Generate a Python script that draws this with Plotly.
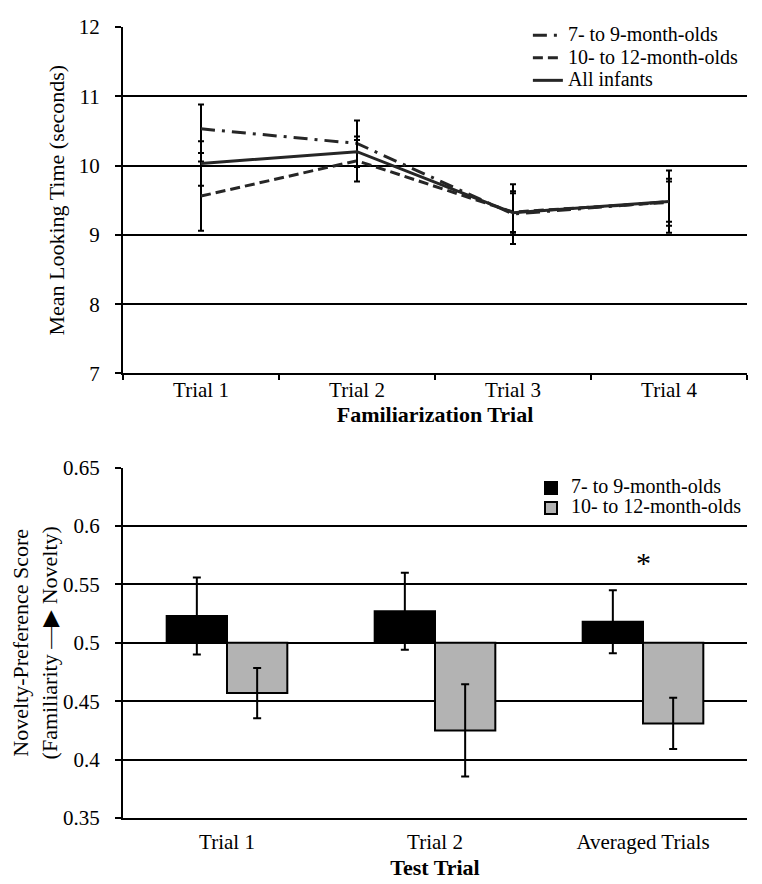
import plotly.graph_objects as go

# ---------------- data ----------------
fam_trials = ["Trial 1", "Trial 2", "Trial 3", "Trial 4"]
young_fam = [10.53, 10.32, 9.30, 9.48]
young_fam_err = [0.35, 0.33, 0.43, 0.45]
old_fam = [9.56, 10.07, 9.33, 9.47]
old_fam_err = [0.50, 0.30, 0.30, 0.34]
all_fam = [10.03, 10.20, 9.32, 9.48]
all_fam_err = [0.32, 0.22, 0.28, 0.29]

test_trials = ["Trial 1", "Trial 2", "Averaged Trials"]
young_test = [0.523, 0.527, 0.518]
young_test_err = [0.033, 0.033, 0.027]
old_test = [0.457, 0.425, 0.431]
old_test_err = [0.0215, 0.0395, 0.022]
chance_level = 0.5

top_ticks = [7, 8, 9, 10, 11, 12]
bottom_ticks = [0.35, 0.40, 0.45, 0.50, 0.55, 0.60, 0.65]
bottom_tick_text = ["0.35", "0.4", "0.45", "0.5", "0.55", "0.6", "0.65"]

FONT = "Liberation Serif"
LINE_COL = "#262626"


def leg_name(s):
    return '<span style="font-size:20px">' + s + '</span>'


fig = go.Figure()


def err(arr):
    return dict(type="data", array=arr, visible=True, color="black", thickness=2, width=3)


fig.add_trace(go.Scatter(x=fam_trials, y=young_fam, name=leg_name("7- to 9-month-olds"), mode="lines",
                         line=dict(color=LINE_COL, width=3, dash="14px,7px,3px,7px"),
                         error_y=err(young_fam_err), xaxis="x", yaxis="y", legend="legend"))
fig.add_trace(go.Scatter(x=fam_trials, y=old_fam, name=leg_name("10- to 12-month-olds"), mode="lines",
                         line=dict(color=LINE_COL, width=3, dash="10px,5px"),
                         error_y=err(old_fam_err), xaxis="x", yaxis="y", legend="legend"))
fig.add_trace(go.Scatter(x=fam_trials, y=all_fam, name=leg_name("All infants"), mode="lines",
                         line=dict(color=LINE_COL, width=3),
                         error_y=err(all_fam_err), xaxis="x", yaxis="y", legend="legend"))

fig.add_trace(go.Bar(x=test_trials, y=[v - chance_level for v in young_test], base=chance_level,
                     name=leg_name("7- to 9-month-olds"),
                     marker=dict(color="black", line=dict(color="black", width=2)),
                     error_y=dict(type="data", array=young_test_err, color="black", thickness=2, width=4),
                     xaxis="x2", yaxis="y2", legend="legend2"))
fig.add_trace(go.Bar(x=test_trials, y=[v - chance_level for v in old_test], base=chance_level,
                     name=leg_name("10- to 12-month-olds"),
                     marker=dict(color="#b3b3b3", line=dict(color="black", width=2)),
                     error_y=dict(type="data", array=old_test_err, color="black", thickness=2, width=4),
                     xaxis="x2", yaxis="y2", legend="legend2"))

fig.add_annotation(x="Averaged Trials", y=0.569, xref="x2", yref="y2", text="*", showarrow=False,
                   font=dict(family=FONT, size=30, color="black"))


def axis_common():
    return dict(showline=True, linecolor="black", linewidth=2, mirror=False, automargin=False,
                tickfont=dict(family=FONT, size=21, color="black"))


# the page body adds an 8px offset; size the figure so the plot sits where the reference has it
fig.update_layout(
    width=754, height=876,
    margin=dict(l=115, r=15, t=11, b=66),
    paper_bgcolor="white", plot_bgcolor="white",
    font=dict(family=FONT, color="black"),
    barmode="group", bargap=0.42, bargroupgap=0,
    xaxis=dict(**axis_common(), domain=[0, 1], anchor="y", type="category", range=[-0.5, 3.5],
               tickson="boundaries", ticks="outside", ticklen=5, tickwidth=2, tickcolor="black",
               showgrid=False, ticklabelstandoff=-4,
               title=dict(text="<b>Familiarization Trial</b>", font=dict(family=FONT, size=22), standoff=6)),
    yaxis=dict(**axis_common(), domain=[0.562, 1], anchor="x", range=[7, 12],
               tickvals=top_ticks, ticks="outside", ticklen=6, tickwidth=2, tickcolor="black",
               showgrid=True, gridcolor="black", gridwidth=2, zeroline=False, ticklabelstandoff=11,
               title=dict(text="Mean Looking Time (seconds)", font=dict(family=FONT, size=22), standoff=8)),
    xaxis2=dict(**axis_common(), domain=[0, 1], anchor="y2", type="category",
                ticks="", showgrid=False, ticklabelstandoff=4,
                title=dict(text="<b>Test Trial</b>", font=dict(family=FONT, size=22), standoff=6)),
    yaxis2=dict(**axis_common(), domain=[0, 0.443], anchor="x2", range=[0.35, 0.65],
                tickvals=bottom_ticks, ticktext=bottom_tick_text, ticks="outside", ticklen=6, tickwidth=2,
                tickcolor="black", showgrid=True, gridcolor="black", gridwidth=2, zeroline=False,
                ticklabelstandoff=11,
                title=dict(text="Novelty-Preference Score<br>(Familiarity —▶ Novelty)",
                           font=dict(family=FONT, size=22), standoff=0)),
    legend=dict(x=0.995, xanchor="right", y=1.010, yanchor="top", bgcolor="rgba(0,0,0,0)",
                font=dict(family=FONT, size=15, color="black"), tracegroupgap=0, itemwidth=30),
    legend2=dict(x=1.0, xanchor="right", y=0.436, yanchor="top", bgcolor="rgba(0,0,0,0)",
                 font=dict(family=FONT, size=13, color="black"), tracegroupgap=0, itemwidth=30),
)

fig.write_html("out.html")
